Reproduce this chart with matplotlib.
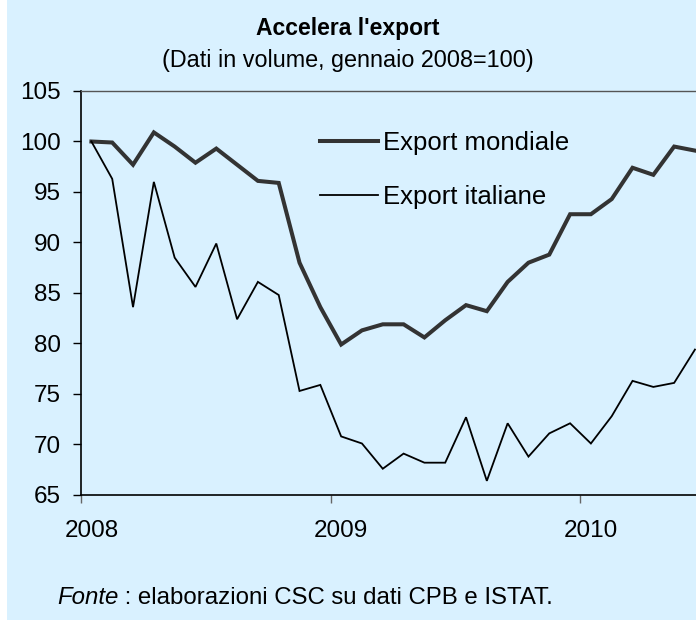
import numpy as np
import matplotlib.pyplot as plt
from matplotlib.patches import Rectangle

# === Data (volumi, gennaio 2008 = 100, dati mensili) ===
export_mondiale = [100.0, 99.9, 97.7, 100.9, 99.5, 97.9, 99.3, 97.7, 96.1, 95.9, 88.0, 83.6,
                   79.9, 81.3, 81.9, 81.9, 80.6, 82.3, 83.8, 83.2, 86.1, 88.0, 88.8, 92.8,
                   92.8, 94.3, 97.4, 96.7, 99.5, 99.1]
export_italiane = [100.0, 96.3, 83.6, 96.0, 88.5, 85.6, 89.9, 82.4, 86.1, 84.8, 75.3, 75.9,
                   70.8, 70.1, 67.6, 69.1, 68.2, 68.2, 72.7, 66.4, 72.1, 68.8, 71.1, 72.1,
                   70.1, 72.8, 76.3, 75.7, 76.1, 79.4]
years = ['2008', '2009', '2010']
yticks = [65, 70, 75, 80, 85, 90, 95, 100, 105]

months = np.arange(len(export_mondiale))
year_pos = np.arange(len(years)) * 12

# === Style ===
W, H = 696, 625
bg = '#D9F1FF'
plt.rcParams['font.family'] = ['Liberation Sans', 'DejaVu Sans']

fig = plt.figure(figsize=(W / 100, H / 100), dpi=100)
fig.patch.set_facecolor('white')
fig.add_artist(Rectangle((7 / W, 5 / H), 1, 1, transform=fig.transFigure,
                         facecolor=bg, edgecolor='none', zorder=-10))

ax = fig.add_axes([81 / W, 1 - 495 / H, 615 / W, 404 / H])
ax.set_facecolor(bg)

ax.plot(months, export_mondiale, color='#333333', lw=2.9, label='Export mondiale',
        solid_joinstyle='miter')
ax.plot(months, export_italiane, color='black', lw=1.3, label='Export italiane',
        solid_joinstyle='miter')

ax.set_xlim(-0.5, 29.05)
ax.set_ylim(65, 105)

# y axis
ax.set_yticks(yticks)
ax.tick_params(axis='y', direction='out', length=6, width=1, color='black',
               pad=8.5, labelsize=17.5)

# x axis: marks between years, labels on January
ax.set_xticks(year_pos - 0.5)
ax.set_xticklabels([])
ax.set_xticks(year_pos, minor=True)
ax.set_xticklabels(years, minor=True)
ax.tick_params(axis='x', which='major', direction='out', length=6, width=1, color='#666666')
ax.tick_params(axis='x', which='minor', length=0, pad=18, labelsize=17.5)

for s in ['left', 'bottom']:
    ax.spines[s].set_color('black')
    ax.spines[s].set_linewidth(1.2)
ax.spines['top'].set_color('#555555')
ax.spines['top'].set_linewidth(1)
ax.spines['right'].set_visible(False)

leg = ax.legend(loc='upper left', bbox_to_anchor=((320 - 81) / 615, (495 - 131) / 404),
                frameon=False, fontsize=18.5, handlelength=2.25, handletextpad=0.2,
                labelspacing=1.15, borderpad=0, borderaxespad=0)

# titles
fig.text(0.5, 1 - 35 / H, "Accelera l'export", ha='center', va='baseline',
         fontsize=16.5, fontweight='bold')
fig.text(0.5, 1 - 67 / H, '(Dati in volume, gennaio 2008=100)', ha='center',
         va='baseline', fontsize=16.8)

# source
fig.canvas.draw()
r = fig.canvas.get_renderer()
t1 = fig.text(57 / W, 1 - 604 / H, 'Fonte', style='italic', fontsize=17.3, va='baseline')
bb = t1.get_window_extent(r)
fig.text(bb.x1 / W, 1 - 604 / H, ' : elaborazioni CSC su dati CPB e ISTAT.',
         fontsize=17.3, va='baseline')

fig.savefig('out.png', dpi=100, facecolor=fig.get_facecolor())
